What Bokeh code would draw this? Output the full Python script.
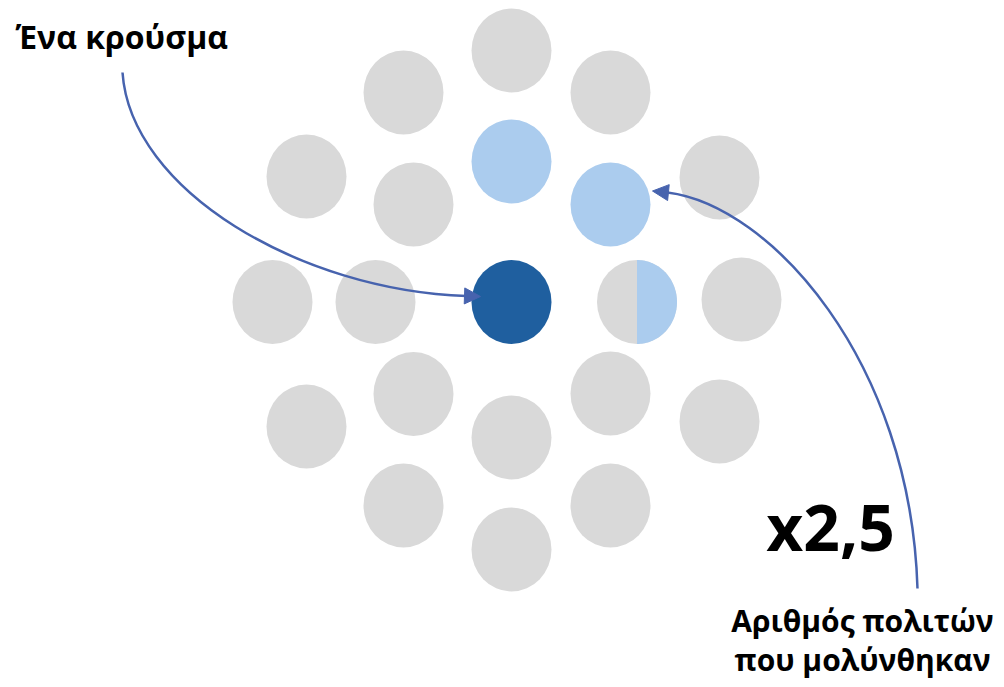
import numpy as np
from bokeh.plotting import figure
from bokeh.models import Arrow, NormalHead
from bokeh.core.properties import value
from bokeh.embed import file_html
from bokeh.resources import INLINE

# Circles (pixel coordinates of centres)
gray_x = [511, 403, 610, 306, 719, 413, 272, 375, 741, 413, 610, 306, 511, 719, 403, 610, 511]
gray_y = [50, 92, 92, 176, 177, 204, 301.5, 301.5, 299, 393.5, 393, 426, 437, 421, 505, 505, 549]
light_x = [511, 610]
light_y = [161, 204]
dark_x = [511]
dark_y = [301.5]
half_x = [636.5]
half_y = [301.5]
circle_w = 80
circle_h = 84

# Arrow curves (bezier: start, control1, control2, end) and head tips
arrow_x0 = [122, 917]
arrow_y0 = [72, 588]
arrow_cx0 = [130, 910]
arrow_cy0 = [190, 360]
arrow_cx1 = [300, 770]
arrow_cy1 = [290, 205]
arrow_x1 = [466, 667]
arrow_y1 = [295.5, 192]
tip_x = [480, 652]
tip_y = [296, 190.5]

# Labels
label_text = ["Ένα κρούσμα", "Αριθμός πολιτών", "που μολύνθηκαν"]
label_x = [15, 862, 862]
label_y = [36, 620, 659]
label_align = ["left", "center", "center"]
label_size = ["32px", "30px", "30px"]
big_text = ["x2,5"]
big_x = [830]
big_y = [526]

GRAY = "#D9D9D9"
LIGHT = "#ABCCEE"
DARK = "#1F5F9F"
ARROW = "#4763AE"

W, H = 996, 679
p = figure(width=W, height=H, x_range=(0, W), y_range=(H, 0),
           output_backend="svg", toolbar_location=None, min_border=0)
p.axis.visible = False
p.grid.visible = False
p.outline_line_color = None
p.background_fill_color = "white"
p.border_fill_color = "white"

p.ellipse(x=gray_x, y=gray_y, width=circle_w, height=circle_h,
          fill_color=GRAY, line_color=None)
p.ellipse(x=light_x, y=light_y, width=circle_w, height=circle_h,
          fill_color=LIGHT, line_color=None)
p.ellipse(x=dark_x, y=dark_y, width=circle_w, height=circle_h,
          fill_color=DARK, line_color=None)

# half-filled circle: gray ellipse with right half light blue
p.ellipse(x=half_x, y=half_y, width=circle_w, height=circle_h,
          fill_color=GRAY, line_color=None)
t = np.linspace(-np.pi / 2, np.pi / 2, 80)
hx = half_x[0] + (circle_w / 2) * np.cos(t)
hy = half_y[0] + (circle_h / 2) * np.sin(t)
p.patch(x=list(hx), y=list(hy), fill_color=LIGHT, line_color=None)

p.bezier(x0=arrow_x0, y0=arrow_y0, x1=arrow_x1, y1=arrow_y1,
         cx0=arrow_cx0, cy0=arrow_cy0, cx1=arrow_cx1, cy1=arrow_cy1,
         line_color=ARROW, line_width=2.5)
for i in range(2):
    p.add_layout(Arrow(end=NormalHead(size=16, fill_color=ARROW, line_color=ARROW, line_width=1),
                       x_start=arrow_x1[i], y_start=arrow_y1[i],
                       x_end=tip_x[i], y_end=tip_y[i],
                       line_alpha=0, line_width=0))

p.text(x=label_x, y=label_y, text=label_text, text_align=label_align,
       text_baseline="alphabetic", text_font=value("Open Sans"),
       text_font_style="bold", text_font_size=label_size, text_color="black")
p.text(x=big_x, y=big_y, text=big_text, text_align="center",
       text_baseline="alphabetic", text_font=value("Open Sans"),
       text_font_style="bold", text_font_size="64px", text_color="black")

open("out.html", "w").write(file_html(p, INLINE))
